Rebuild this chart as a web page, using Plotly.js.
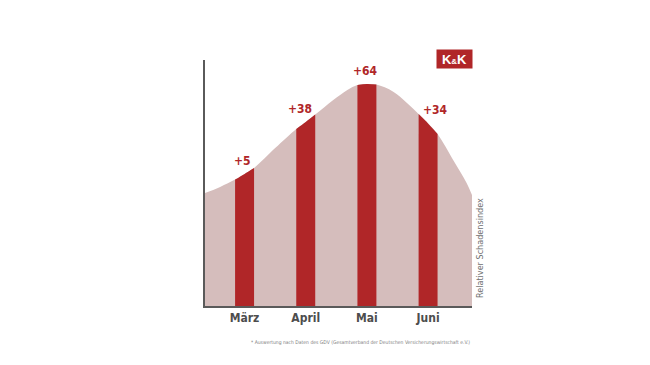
<!DOCTYPE html>
<html>
<head>
<meta charset="utf-8">
<script src="https://cdn.plot.ly/plotly-3.0.1.min.js"></script>
<style>html,body{margin:0;padding:0;background:#fff;}#chart{width:650px;height:365px;}</style>
</head>
<body>
<div id="chart"></div>
<script>
// ---- data ----
const months = ['März', 'April', 'Mai', 'Juni'];
const changes = ['+5', '+38', '+64', '+34'];
// curve of the relative damage index (month units on x, index on y)
const curveX = [-0.647, -0.40, -0.155, 0, 0.155, 0.50, 0.845, 1.0, 1.155, 1.45, 1.68, 1.845, 2.0, 2.155, 2.43, 2.655, 2.845, 3.0, 3.155, 3.41, 3.63, 3.718];
const curveY = [45.9, 48.4, 51.4, 53.7, 56.1, 64.2, 72.0, 74.8, 77.8, 83.7, 87.8, 89.8, 90.2, 90.0, 87.1, 82.5, 78.0, 74.2, 69.9, 59.3, 50.0, 45.1];

const PINK = '#d5bdbc';
const RED = '#b02628';
const GREY = '#4d4d4d';
const FONT = '"Liberation Sans Narrow", "DejaVu Sans Condensed", "Roboto", sans-serif';
const HALF = 0.155;

const traces = [{
  type: 'scatter', mode: 'lines', x: curveX, y: curveY,
  line: {shape: 'spline', smoothing: 1, width: 0, color: PINK},
  fill: 'tozeroy', fillcolor: PINK, hoverinfo: 'skip', showlegend: false
}];

months.forEach((m, i) => {
  const bx = [], by = [];
  curveX.forEach((x, k) => { if (Math.abs(x - i) <= HALF + 1e-6) { bx.push(x); by.push(curveY[k]); } });
  traces.push({
    type: 'scatter', mode: 'lines', x: bx, y: by,
    line: {shape: 'spline', smoothing: 1, width: 0, color: RED},
    fill: 'tozeroy', fillcolor: RED, hoverinfo: 'skip', showlegend: false
  });
});

const xshifts = [-2, -6, -1, 7];
const annotations = months.map((m, i) => ({
  x: i, y: curveY[curveX.indexOf(i)], xref: 'x', yref: 'y',
  text: '<b>' + changes[i] + '</b>', showarrow: false,
  xanchor: 'center', yanchor: 'bottom', yshift: 4, xshift: xshifts[i],
  font: {family: FONT, size: 12, color: RED}
}));

annotations.push({
  xref: 'paper', yref: 'paper', x: 1, y: 0, xanchor: 'left', yanchor: 'bottom',
  xshift: 1, yshift: 6, textangle: -90, showarrow: false,
  text: 'Relativer Schadensindex',
  font: {family: FONT, size: 9, color: '#707070'}
});
annotations.push({
  xref: 'paper', yref: 'paper', x: 1, y: -0.15, xanchor: 'right', yanchor: 'middle',
  showarrow: false,
  text: '* Auswertung nach Daten des GDV (Gesamtverband der Deutschen Versicherungswirtschaft e.V.)',
  font: {family: FONT, size: 5, color: '#808080'}
});
annotations.push({
  xref: 'paper', yref: 'paper', x: 0.934, y: 1.004, xanchor: 'center', yanchor: 'middle',
  showarrow: false, bgcolor: RED, width: 33, height: 16, borderpad: 1,
  text: '<b>K<span style="font-size:8px">&amp;</span>K</b>',
  font: {family: '"Liberation Sans", Arial, sans-serif', size: 13, color: '#ffffff'}
});

const layout = {
  width: 650, height: 365,
  margin: {l: 205, r: 178, t: 60, b: 59, pad: 0},
  paper_bgcolor: '#ffffff', plot_bgcolor: '#ffffff',
  showlegend: false,
  xaxis: {
    range: [-0.647, 3.718], showgrid: false, zeroline: false,
    showline: true, linecolor: '#5a5a5a', linewidth: 2,
    tickvals: months.map((m, i) => i), ticktext: months.map(m => '<b>' + m + '</b>'),
    ticks: '', tickfont: {family: FONT, size: 12, color: GREY}, fixedrange: true
  },
  yaxis: {
    range: [0, 100], showgrid: false, zeroline: false,
    showline: true, linecolor: '#5a5a5a', linewidth: 2,
    showticklabels: false, ticks: '', fixedrange: true
  },
  annotations: annotations
};

Plotly.newPlot('chart', traces, layout, {displayModeBar: false, staticPlot: true});
</script>
</body>
</html>
